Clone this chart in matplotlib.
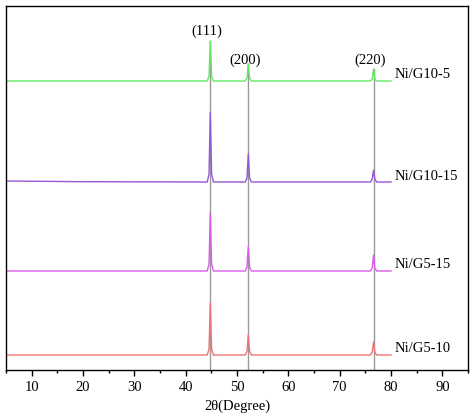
import numpy as np
import matplotlib
matplotlib.use("Agg")
import matplotlib.pyplot as plt
from matplotlib.ticker import MultipleLocator

plt.rcParams["font.family"] = ["Liberation Serif", "DejaVu Serif"]

# XRD patterns (offset intensity, a.u.)
two_theta = [5, 20, 44.2, 44.55, 44.8, 45.05, 45.4, 51.6, 51.95, 52.2, 52.45, 52.8,
             76.0, 76.35, 76.6, 76.85, 77.2, 80]
ni_g5_10 = [15, 15, 15, 21, 67, 21, 15, 15, 19, 35, 19, 15, 15, 18, 28, 18, 15, 15]
ni_g5_15 = [99, 99, 99, 106, 157, 106, 99, 99, 103, 123, 103, 99, 99, 102, 115, 102, 99, 99]
ni_g10_15 = [189, 188.3, 188, 196, 258, 196, 188, 188, 192, 216, 192, 188, 188, 191, 200, 191, 188, 188]
ni_g10_5 = [289, 289, 289, 294, 329, 294, 289, 289, 292, 306, 292, 289, 289, 291, 301, 291, 289, 289]

series = [
    ("Ni/G5-10", ni_g5_10, "#ef7373"),
    ("Ni/G5-15", ni_g5_15, "#d95ce8"),
    ("Ni/G10-15", ni_g10_15, "#9656d8"),
    ("Ni/G10-5", ni_g10_5, "#62e862"),
]

peak_pos = [44.8, 52.2, 76.6]
peak_labels = ["(111)", "(200)", "(220)"]
peak_top = [329, 306, 301]

fig = plt.figure(figsize=(4.74, 4.17), dpi=100)
ax = fig.add_axes([6 / 474, 1 - 370 / 417, 462 / 474, 364 / 417])

# reference lines through the peaks
for pos, top in zip(peak_pos, peak_top):
    ax.plot([pos, pos], [0, top], color="#9a9a9a", lw=1.0, zorder=1)

for name, vals, col in series:
    ax.plot(two_theta, vals, color=col, lw=1.0, zorder=2)
    ax.text(80.8, vals[-1] + 6, name, fontsize=10.5, ha="left", va="center")

label_y = [339, 310, 310]
for pos, lab, ly in zip(peak_pos, peak_labels, label_y):
    ax.text(pos - 0.6, ly, lab, fontsize=10.5, ha="center", va="center")

ax.set_xlim(5, 95)
ax.set_ylim(0, 364)
ax.xaxis.set_major_locator(MultipleLocator(10))
ax.xaxis.set_minor_locator(MultipleLocator(5))
ax.set_yticks([])
ax.tick_params(axis="x", which="major", direction="out", length=4, width=1, labelsize=10.5, pad=4)
ax.tick_params(axis="x", which="minor", direction="out", length=2.5, width=1)
for sp in ax.spines.values():
    sp.set_linewidth(1.0)
ax.set_xlabel("2θ(Degree)", fontsize=10.5, labelpad=4)

fig.savefig("out.png", dpi=100)
